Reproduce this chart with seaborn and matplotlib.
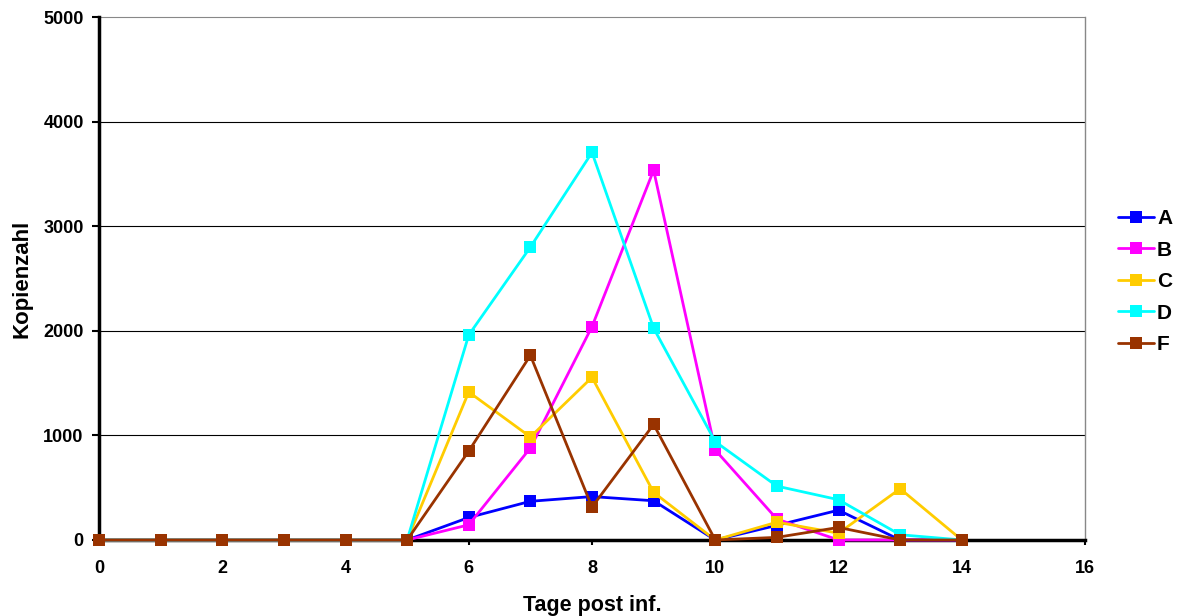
import matplotlib
matplotlib.use("Agg")
import matplotlib.pyplot as plt
import seaborn as sns
import pandas as pd

days = list(range(0, 15))
series_names = ["A", "B", "C", "D", "F"]
A = [0, 0, 0, 0, 0, 0, 215, 370, 415, 375, 0, 140, 285, 0, 0]
B = [0, 0, 0, 0, 0, 0, 145, 880, 2040, 3535, 860, 200, 0, 0, 0]
C = [0, 0, 0, 0, 0, 0, 1415, 985, 1555, 455, 0, 170, 65, 490, 0]
D = [0, 0, 0, 0, 0, 0, 1960, 2800, 3705, 2025, 940, 515, 385, 50, 0]
F = [0, 0, 0, 0, 0, 0, 850, 1765, 315, 1105, 0, 25, 120, 0, 0]
colors = ["#0000FF", "#FF00FF", "#FFCC00", "#00FFFF", "#993300"]
x_ticks = [0, 2, 4, 6, 8, 10, 12, 14, 16]
y_ticks = [0, 1000, 2000, 3000, 4000, 5000]

sns.set_theme(style="white")
plt.rcParams["font.family"] = ["Liberation Sans", "DejaVu Sans"]
plt.rcParams["font.weight"] = "bold"
for k in ["text.color", "axes.labelcolor", "xtick.color", "ytick.color"]:
    plt.rcParams[k] = "black"

rows = []
for name, vals in zip(series_names, [A, B, C, D, F]):
    for d, v in zip(days, vals):
        rows.append({"Tag": d, "Kopienzahl": v, "Serie": name})
df = pd.DataFrame(rows)

fig = plt.figure(figsize=(11.8, 6.16), dpi=100)
ax = fig.add_axes([0.0839, 0.1234, 0.8356, 0.849])

for y in y_ticks[1:]:
    ax.axhline(y, color="black" if y < 5000 else "#888888", lw=0.8, zorder=0)

sns.lineplot(data=df, x="Tag", y="Kopienzahl", hue="Serie", hue_order=series_names,
             palette=colors, marker="s", markersize=8, markeredgewidth=0,
             linewidth=2, dashes=False, ax=ax, zorder=3)

ax.set_xlim(0, 16)
ax.set_ylim(0, 5000)
ax.set_xticks(x_ticks)
ax.set_yticks(y_ticks)
ax.tick_params(axis="x", direction="out", length=3.5, width=1.5, color="black",
               labelsize=13, bottom=True, pad=11)
ax.tick_params(axis="y", direction="out", length=5, width=1.5, color="black",
               labelsize=13, left=True, pad=6)
for lab in ax.get_xticklabels() + ax.get_yticklabels():
    lab.set_fontweight("bold")
ax.set_xlabel("Tage post inf.", fontsize=15.5, fontweight="bold", labelpad=13)
ax.set_ylabel("Kopienzahl", fontsize=16, fontweight="bold", labelpad=8)

ax.spines["top"].set_visible(False)
ax.spines["right"].set_color("#888888")
ax.spines["right"].set_linewidth(1)
for s in ["left", "bottom"]:
    ax.spines[s].set_color("black")
    ax.spines[s].set_linewidth(2.5)
for ln in ax.lines:
    ln.set_clip_on(False)

leg = ax.legend(loc="center left", bbox_to_anchor=(0.940, 0.543),
                bbox_transform=fig.transFigure, frameon=False, fontsize=15,
                labelspacing=0.6, handlelength=1.75, handletextpad=0.15,
                borderaxespad=0)
for t in leg.get_texts():
    t.set_fontweight("bold")

fig.savefig("out.png", dpi=100)
